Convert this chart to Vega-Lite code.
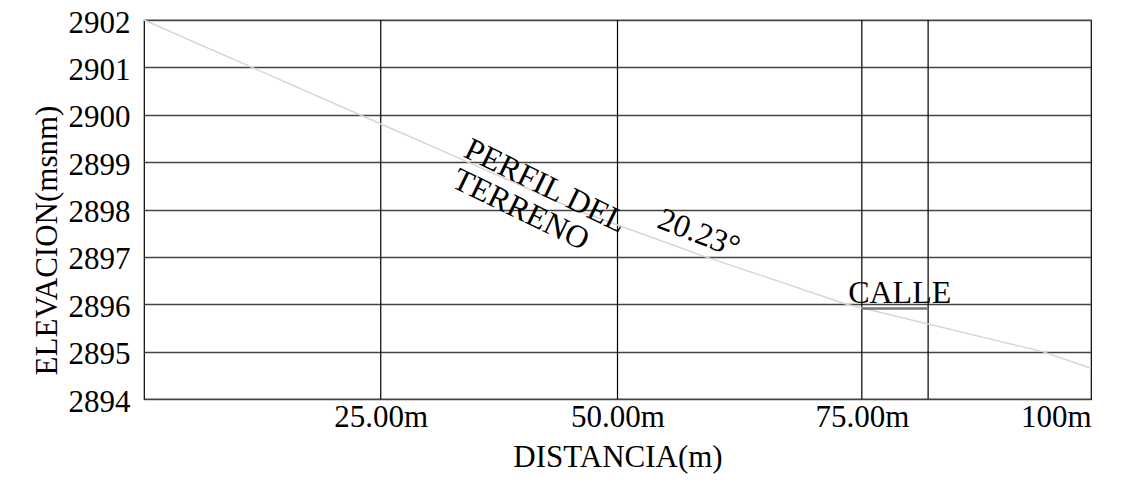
{
  "$schema": "https://vega.github.io/schema/vega-lite/v6.json",
  "autosize": {"type": "none"},
  "padding": {"left": 144, "top": 20, "right": 56, "bottom": 96},
  "width": 947,
  "height": 379,
  "background": "white",
  "config": {
    "font": "Liberation Serif",
    "view": {"stroke": "black", "strokeWidth": 1.2},
    "axis": {"labelFont": "Liberation Serif", "titleFont": "Liberation Serif", "labelColor": "black", "titleColor": "black", "titleFontWeight": "normal"}
  },
  "datasets": {
    "terrain": [
      {"d": 0, "elev": 2902},
      {"d": 11.4, "elev": 2901},
      {"d": 22.8, "elev": 2900},
      {"d": 34.2, "elev": 2899},
      {"d": 45.5, "elev": 2898},
      {"d": 59.3, "elev": 2897},
      {"d": 74.2, "elev": 2896},
      {"d": 94.9, "elev": 2895},
      {"d": 100, "elev": 2894.65}
    ],
    "vlines": [{"d": 25}, {"d": 50}, {"d": 75.8}, {"d": 82.8}],
    "street": [{"d": 75.8, "elev": 2895.91}, {"d": 82.8, "elev": 2895.91}],
    "notes": [
      {"d": 42.4, "elev": 2898.5, "txt": "PERFIL DEL", "ang": 26},
      {"d": 39.8, "elev": 2898.0, "txt": "TERRENO", "ang": 26},
      {"d": 58.6, "elev": 2897.5, "txt": "20.23°", "ang": 21}
    ],
    "calle": [{"d": 79.8, "elev": 2896.03, "txt": "CALLE"}]
  },
  "layer": [
    {
      "data": {"name": "vlines"},
      "mark": {"type": "rule", "color": "black", "strokeWidth": 1.2},
      "encoding": {
        "x": {"field": "d", "type": "quantitative", "scale": {"domain": [0, 100], "nice": false, "zero": false},
          "axis": {"values": [25, 50, 75.8, 100], "labelExpr": "datum.value == 25 ? '25.00m' : datum.value == 50 ? '50.00m' : datum.value == 100 ? '100m' : '75.00m'",
            "ticks": false, "domain": false, "grid": false, "labelFontSize": 31, "labelPadding": 3, "title": "DISTANCIA(m)", "titleFontSize": 31, "titlePadding": 10}}
      }
    },
    {
      "data": {"name": "terrain"},
      "mark": {"type": "line", "color": "#d6d6d6", "strokeWidth": 1.5},
      "encoding": {
        "x": {"field": "d", "type": "quantitative"},
        "y": {"field": "elev", "type": "quantitative", "scale": {"domain": [2894, 2902], "nice": false, "zero": false},
          "axis": {"values": [2894, 2895, 2896, 2897, 2898, 2899, 2900, 2901, 2902], "format": "d", "ticks": false, "domain": false,
            "grid": true, "gridColor": "#444", "gridWidth": 1.4, "labelFontSize": 31, "labelPadding": 14, "labelOffset": 3,
            "title": "ELEVACION(msnm)", "titleFontSize": 31, "titlePadding": 5, "titleY": 220}}
      }
    },
    {
      "data": {"name": "street"},
      "mark": {"type": "line", "color": "#777", "strokeWidth": 2.5},
      "encoding": {
        "x": {"field": "d", "type": "quantitative"},
        "y": {"field": "elev", "type": "quantitative"}
      }
    },
    {
      "data": {"name": "notes"},
      "mark": {"type": "text", "fontSize": 32, "align": "center", "baseline": "middle", "color": "black"},
      "encoding": {
        "x": {"field": "d", "type": "quantitative"},
        "y": {"field": "elev", "type": "quantitative"},
        "angle": {"field": "ang", "type": "quantitative", "scale": null},
        "text": {"field": "txt"}
      }
    },
    {
      "data": {"name": "calle"},
      "mark": {"type": "text", "fontSize": 32, "align": "center", "baseline": "alphabetic", "color": "black"},
      "encoding": {
        "x": {"field": "d", "type": "quantitative"},
        "y": {"field": "elev", "type": "quantitative"},
        "text": {"field": "txt"}
      }
    }
  ]
}
